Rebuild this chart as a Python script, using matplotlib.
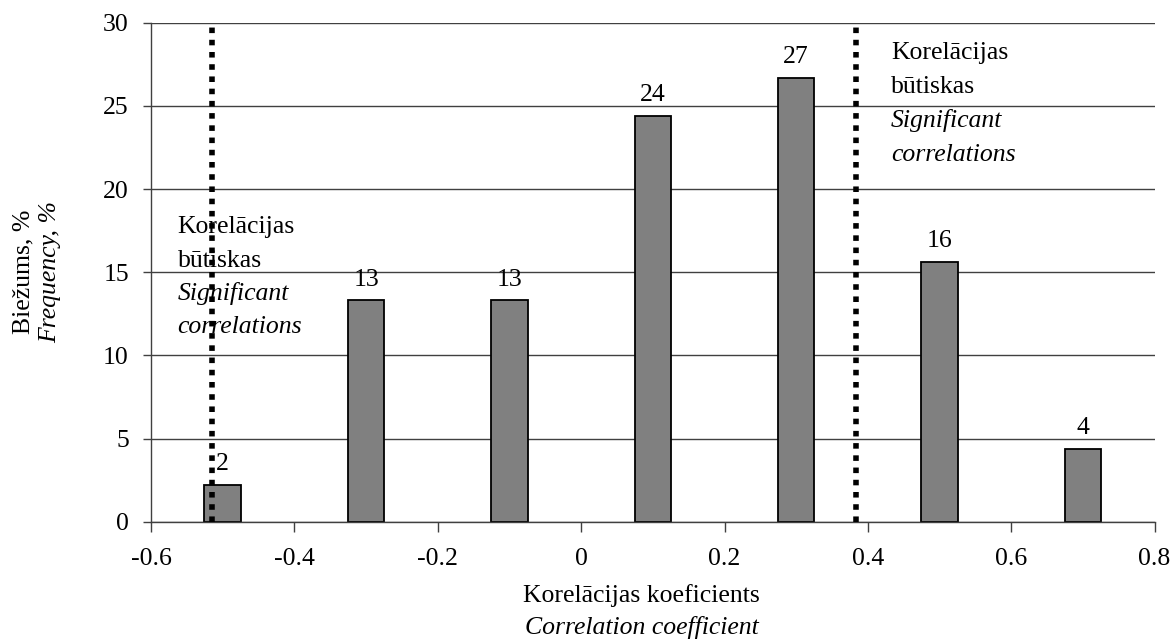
#!/usr/bin/env python3

import matplotlib
matplotlib.use('Agg')
import matplotlib.pyplot as plt

# Frequency distribution of correlation coefficients.
bin_centers = [-0.5, -0.3, -0.1, 0.1, 0.3, 0.5, 0.7]
frequency = [2.2, 13.3, 13.3, 24.4, 26.7, 15.6, 4.4]
bar_labels = ['2', '13', '13', '24', '27', '16', '4']
signif_limits = [-0.515, 0.383]
x_ticks = [-0.6, -0.4, -0.2, 0, 0.2, 0.4, 0.6, 0.8]
x_ticklabels = ['-0.6', '-0.4', '-0.2', '0', '0.2', '0.4', '0.6', '0.8']
y_ticks = [0, 5, 10, 15, 20, 25, 30]
note_lines = ['Korelācijas', 'būtiskas', 'Significant', 'correlations']
note_styles = ['normal', 'normal', 'italic', 'italic']

plt.rcParams['font.family'] = ['Liberation Serif', 'DejaVu Serif']
plt.rcParams['font.size'] = 18.5

fig = plt.figure(figsize=(11.71, 6.42), dpi=100)
ax = fig.add_axes([0.129, 0.1874, 0.857, 0.7772])

ax.bar(bin_centers, frequency, width=0.051, color='#808080',
       edgecolor='black', linewidth=1.3, zorder=2)
for x, y, lab in zip(bin_centers, frequency, bar_labels):
    ax.text(x, y + 0.6, lab, ha='center', va='bottom', zorder=4)

for x in signif_limits:
    ax.plot([x, x], [0, 30], color='black', linewidth=4.0,
            linestyle=(0, (1, 1.2)), dash_capstyle='butt', zorder=3)

# Notes next to the significance limits.
for i, (line, style) in enumerate(zip(note_lines, note_styles)):
    ax.text(-0.563, 17.7 - 2.0 * i, line, style=style, ha='left', va='center', zorder=4)
    ax.text(0.432, 28.2 - 2.05 * i, line, style=style, ha='left', va='center', zorder=4)

ax.set_xlim(-0.6, 0.8)
ax.set_ylim(0, 30)
ax.set_xticks(x_ticks)
ax.set_xticklabels(x_ticklabels)
ax.set_yticks(y_ticks)
ax.yaxis.grid(True, color='#404040', linewidth=1.0)
ax.set_axisbelow(True)
for side in ['top', 'right']:
    ax.spines[side].set_visible(False)
for side in ['left', 'bottom']:
    ax.spines[side].set_color('#404040')
    ax.spines[side].set_linewidth(1.0)
ax.tick_params(axis='x', direction='out', length=7, width=1.0, color='#404040', pad=12)
ax.tick_params(axis='y', direction='out', length=6, width=1.0, color='#404040', pad=10)

fig.text(23 / 1171, 0.576, 'Biežums, %', rotation=90, ha='center', va='center')
fig.text(50 / 1171, 0.576, 'Frequency, %', rotation=90, ha='center', va='center', style='italic')
fig.text(0.548, 0.073, 'Korelācijas koeficients', ha='center', va='center')
fig.text(0.548, 0.022, 'Correlation coefficient', ha='center', va='center', style='italic')

fig.savefig('out.png', dpi=100)
